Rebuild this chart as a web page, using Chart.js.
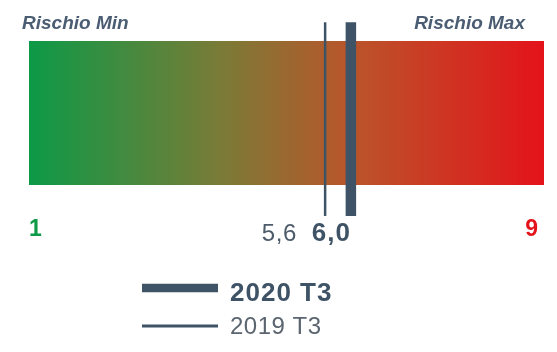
<!DOCTYPE html>
<html>
<head>
<meta charset="utf-8">
<script src="https://cdn.jsdelivr.net/npm/chart.js@4"></script>
<style>
  html, body { margin: 0; padding: 0; background: #fff; }
  #wrap { width: 557px; height: 352px; }
</style>
</head>
<body>
<div id="wrap"><canvas id="risk" width="557" height="352"></canvas></div>
<script>
    "use strict";

    // scala di rischio
    const scaleEnds = [1, 9];
    const endTitles = ['Rischio Min', 'Rischio Max'];

    // periodi (il primo è quello corrente)
    const seriesLabels = ['2020 T3', '2019 T3'];
    const seriesValues = [6.0, 5.6];

    const slate = '#3f5366';
    const font = '"Liberation Sans", Arial, sans-serif';

    function fmt(v) {
        return v.toFixed(1).replace('.', ',');
    }

    // banda colorata
    function bandGradient(context) {
        const area = context.chart.chartArea;
        if (!area) return '#888';
        const g = context.chart.ctx.createLinearGradient(area.left, 0, area.right, 0);
        g.addColorStop(0, '#0c9a47');
        g.addColorStop(0.38, '#7c7a36');
        g.addColorStop(0.62, '#b9562b');
        g.addColorStop(1, '#e4131a');
        return g;
    }

    const markerSets = seriesValues.map((v, i) => ({
        data: [{ x: v, y: -0.215 }, { x: v, y: 1.13 }],
        borderColor: slate,
        borderWidth: i === 0 ? 10.5 : 2.5,
        borderCapStyle: 'butt',
        pointRadius: 0,
        fill: false,
        clip: false
    }));

    const bandSet = {
        data: [{ x: scaleEnds[0], y: 1 }, { x: scaleEnds[1], y: 1 }],
        borderWidth: 0,
        pointRadius: 0,
        backgroundColor: bandGradient,
        fill: 'origin'
    };

    const textPlugin = {
        id: 'riskText',
        afterDraw(chart) {
            const c = chart.ctx;
            const xs = chart.scales.x;
            c.save();

            // titoli
            c.font = 'italic bold 19px ' + font;
            c.fillStyle = '#4b5d73';
            c.textBaseline = 'alphabetic';
            c.textAlign = 'left';
            c.fillText(endTitles[0], 22, 29);
            c.textAlign = 'right';
            c.fillText(endTitles[1], 525, 29);

            // estremi
            c.font = 'bold 23px ' + font;
            c.textAlign = 'left';
            c.fillStyle = '#0d9b48';
            c.fillText(String(scaleEnds[0]), xs.getPixelForValue(scaleEnds[0]), 236);
            c.textAlign = 'right';
            c.fillStyle = '#e3141b';
            c.fillText(String(scaleEnds[1]), xs.getPixelForValue(scaleEnds[1]) - 6, 236);

            // valori
            c.font = 'bold 26px ' + font;
            c.letterSpacing = '1px';
            c.fillStyle = slate;
            c.textAlign = 'right';
            const right0 = xs.getPixelForValue(seriesValues[0]);
            c.fillText(fmt(seriesValues[0]), right0, 241);
            const w0 = c.measureText(fmt(seriesValues[0])).width;
            c.font = '24px ' + font;
            c.letterSpacing = '0.5px';
            c.fillStyle = '#4d5b6b';
            c.fillText(fmt(seriesValues[1]), right0 - w0 - 15, 241);

            // legenda
            const rows = [{ y: 288, w: 8.5, base: 301, bold: true, col: slate },
                          { y: 326, w: 3, base: 334, bold: false, col: '#5b6570' }];
            seriesLabels.forEach((lab, i) => {
                const r = rows[i];
                c.strokeStyle = slate;
                c.lineWidth = r.w;
                c.lineCap = 'butt';
                c.beginPath();
                c.moveTo(142, r.y);
                c.lineTo(218, r.y);
                c.stroke();
                c.font = r.bold ? 'bold 26px ' + font : '24px ' + font;
                c.letterSpacing = r.bold ? '1px' : '0.5px';
                c.fillStyle = r.col;
                c.textAlign = 'left';
                c.fillText(lab, 230, r.base);
            });
            c.restore();
        }
    };

    new Chart(document.getElementById('risk'), {
        type: 'line',
        data: { datasets: markerSets.concat([bandSet]) },
        options: {
            responsive: false,
            animation: false,
            layout: { padding: { left: 29, right: 13, top: 41, bottom: 167 } },
            scales: {
                x: { type: 'linear', min: scaleEnds[0], max: scaleEnds[1], display: false },
                y: { type: 'linear', min: 0, max: 1, display: false }
            },
            plugins: {
                legend: { display: false },
                tooltip: { enabled: false }
            }
        },
        plugins: [textPlugin]
    });
</script>
</body>
</html>
